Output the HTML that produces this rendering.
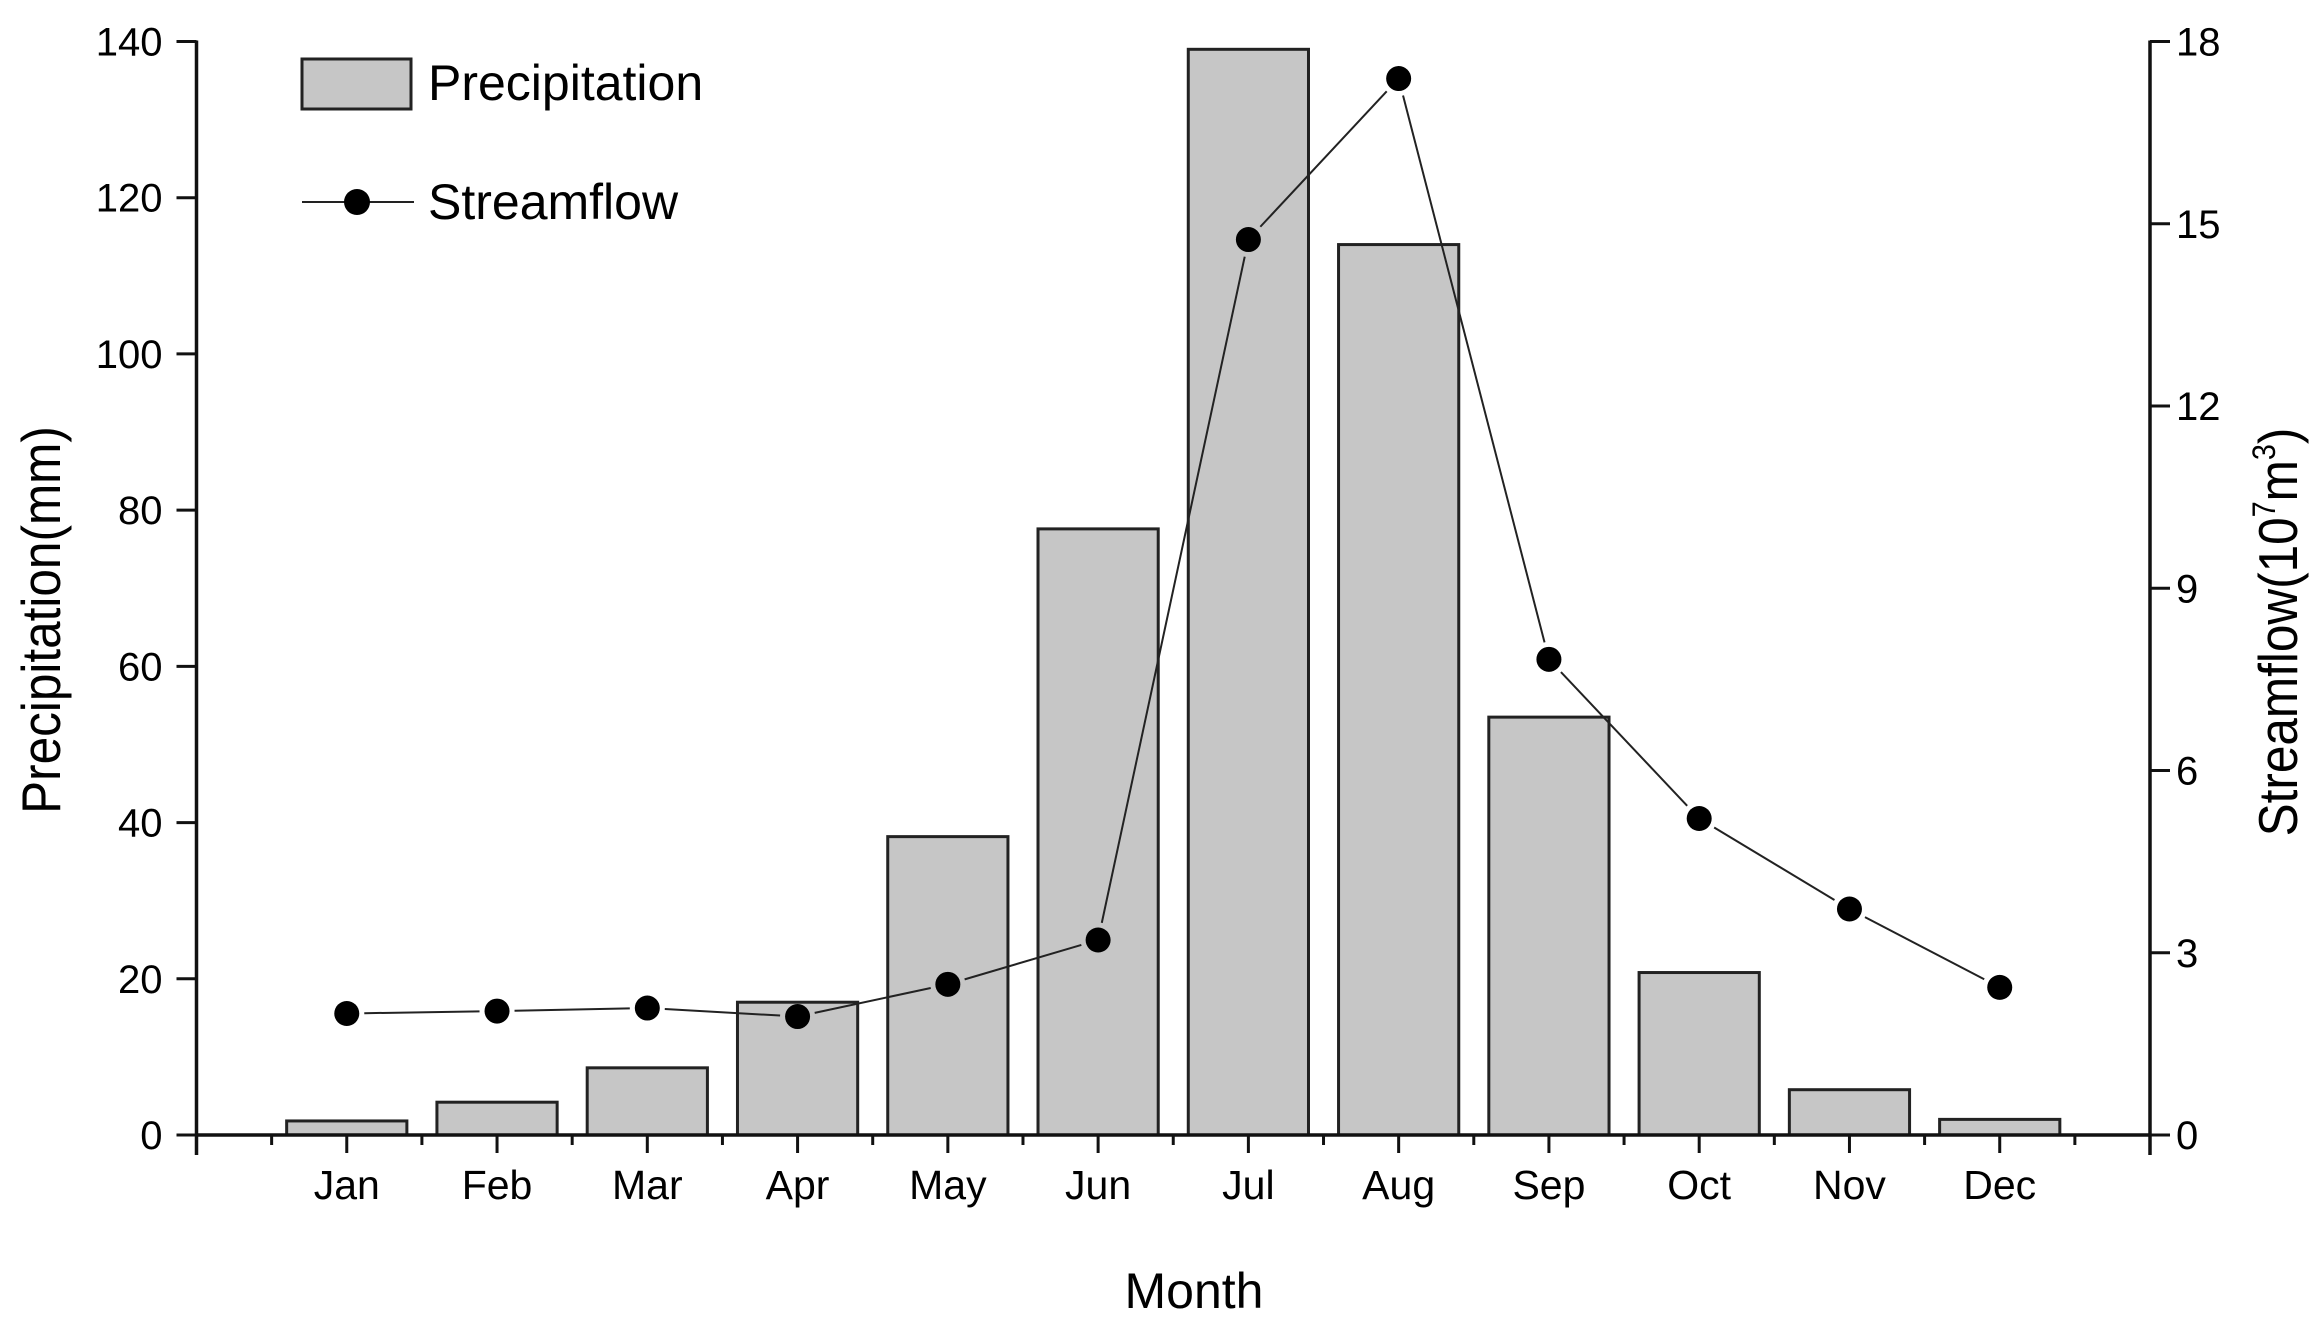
<!DOCTYPE html>
<html><head><meta charset="utf-8"><style>
html,body{margin:0;padding:0;background:#fff;}
svg{display:block;}
text{font-family:"Liberation Sans",Arial,sans-serif;fill:#000;}
</style></head><body>
<svg id="chart" width="2317" height="1330" viewBox="0 0 2317 1330" xmlns="http://www.w3.org/2000/svg">
<g id="bars"></g>
<g id="line"></g>
<g id="axes"></g>
<g>
<rect x="302" y="59" width="109" height="50" fill="#c6c6c6" stroke="#222" stroke-width="3"/>
<text x="428" y="100" font-size="50">Precipitation</text>
<line x1="302" y1="202" x2="414" y2="202" stroke="#222" stroke-width="2"/>
<circle cx="357" cy="202" r="13" fill="#000"/>
<text x="428" y="219" font-size="50">Streamflow</text>
</g>
<text x="1194" y="1308" font-size="50" text-anchor="middle">Month</text>
<text transform="translate(60,620) rotate(-90) scale(0.9,1)" font-size="55" text-anchor="middle">Precipitation(mm)</text>
<text transform="translate(2297,632) rotate(-90) scale(0.9,1)" font-size="55" text-anchor="middle">Streamflow(10<tspan font-size="32" dy="-22">7</tspan><tspan dy="22">m</tspan><tspan font-size="32" dy="-22">3</tspan><tspan dy="22">)</tspan></text>
</svg>
<script>
const months = ["Jan","Feb","Mar","Apr","May","Jun","Jul","Aug","Sep","Oct","Nov","Dec"];
const precipitation = [1.8,4.2,8.6,17,38.2,77.6,139,114,53.5,20.8,5.8,2.0];
const streamflow = [2.0,2.04,2.09,1.95,2.48,3.21,14.74,17.39,7.83,5.21,3.72,2.43];
const leftTicks = [0,20,40,60,80,100,120,140];
const rightTicks = [0,3,6,9,12,15,18];

const NS="http://www.w3.org/2000/svg";
const X0=196.5, X1=2150, Y0=1135, Y1=41.5;
const xS=i=>X0+(i+1)*(X1-X0)/13;
const xH=v=>X0+v*(X1-X0)/13;
const yL=v=>Y0-(v/140)*(Y0-Y1);
const yR=v=>Y0-(v/18)*(Y0-Y1);
function mk(tag,attrs,parent){const e=document.createElementNS(NS,tag);for(const k in attrs)e.setAttribute(k,attrs[k]);parent.appendChild(e);return e;}
const gb=document.getElementById('bars'),gl=document.getElementById('line'),ga=document.getElementById('axes');
const bw=0.8*(X1-X0)/13;
precipitation.forEach((v,i)=>{
  const r=mk('rect',{x:xS(i)-bw/2,y:yL(v),width:bw,height:Y0-yL(v),fill:'#c6c6c6',stroke:'#222','stroke-width':3},gb);
  
  
});
const R=12.5,gap=5;
for(let i=0;i<streamflow.length-1;i++){
  const ax=xS(i),ay=yR(streamflow[i]),bx=xS(i+1),by=yR(streamflow[i+1]);
  const d=Math.hypot(bx-ax,by-ay),ux=(bx-ax)/d,uy=(by-ay)/d,o=R+gap;
  const l=mk('line',{x1:ax+ux*o,y1:ay+uy*o,x2:bx-ux*o,y2:by-uy*o,stroke:'#222','stroke-width':2},gl);
  
  
}
streamflow.forEach((v,i)=>{
  const c=mk('circle',{cx:xS(i),cy:yR(v),r:R,fill:'#000'},gl);
  
  
});
mk('line',{x1:X0,y1:Y1-1,x2:X0,y2:Y0+20,stroke:'#111','stroke-width':3.5},ga);
mk('line',{x1:X1,y1:Y1-1,x2:X1,y2:Y0+20,stroke:'#111','stroke-width':3.5},ga);
mk('line',{x1:X0,y1:Y0,x2:X1,y2:Y0,stroke:'#111','stroke-width':3.5},ga);
leftTicks.forEach(v=>{
  mk('line',{x1:X0-20,y1:yL(v),x2:X0,y2:yL(v),stroke:'#111','stroke-width':3},ga);
  const t=mk('text',{x:X0-34,y:yL(v)+14,'font-size':40,'text-anchor':'end'},ga);t.textContent=v;
  
  
});
rightTicks.forEach(v=>{
  mk('line',{x1:X1,y1:yR(v),x2:X1+20,y2:yR(v),stroke:'#111','stroke-width':3},ga);
  const t=mk('text',{x:X1+26,y:yR(v)+14,'font-size':40},ga);t.textContent=v;
  
  
});
for(let k=1;k<26;k++){
  const v=k/2;
  const major=(k%2===0);
  mk('line',{x1:xH(v),y1:Y0,x2:xH(v),y2:Y0+(major?18:10),stroke:'#111','stroke-width':3},ga);
}
months.forEach((m,i)=>{
  const t=mk('text',{x:xS(i),y:1199,'font-size':41,'text-anchor':'middle'},ga);t.textContent=m;
  
  
});
</script>
</body></html>
